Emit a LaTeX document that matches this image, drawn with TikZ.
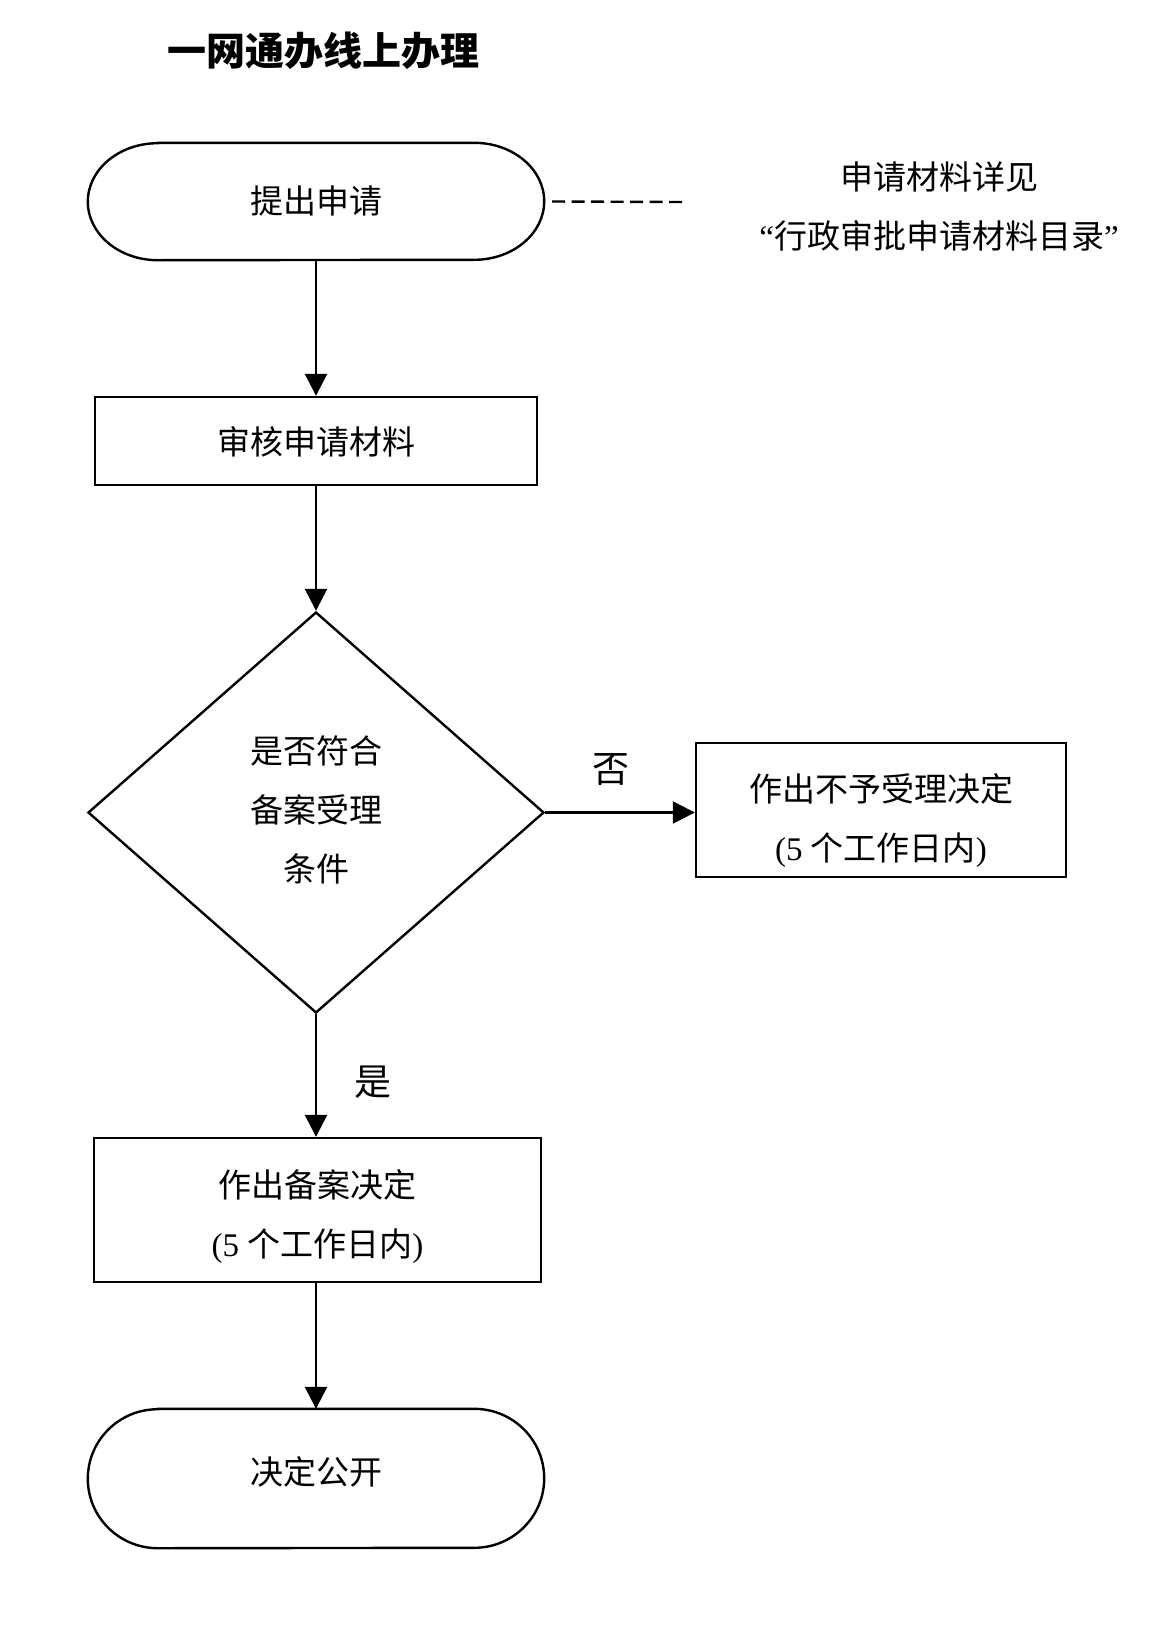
\documentclass[tikz,border=0pt]{standalone}
\usepackage{fontspec}
\setmainfont{Noto Sans CJK SC}
\newfontfamily\serifnum{Liberation Serif}
\usetikzlibrary{arrows.meta,shapes.geometric}
\tikzset{
  lw/.style={line width=2.4pt},
  txt/.style={font=\fontsize{33}{59}\selectfont, align=center, inner sep=0pt},
  procbox/.style={draw, lw, inner sep=0pt},
  termnode/.style={draw=none, inner sep=0pt},
  decis/.style={diamond, draw, lw, inner sep=0pt, minimum width=456pt, minimum height=401pt},
  arr/.style={lw, -{Triangle[length=22pt,width=22pt]}},
  lab/.style={font=\fontsize{37}{40}\selectfont, inner sep=0pt},
}
\newcommand{\termshape}[2]{%
  \draw[lw] ([xshift=70pt]#1.north west) -- ([xshift=-70pt]#1.north east)
    arc[start angle=90,end angle=-90,x radius=70pt,y radius=#2]
    -- ([xshift=70pt]#1.south west)
    arc[start angle=270,end angle=90,x radius=70pt,y radius=#2] -- cycle;}
\begin{document}
\begin{tikzpicture}[x=1pt,y=-1pt]
\useasboundingbox[fill=white] (0,0) rectangle (1170,1652);

\node[font=\fontsize{39}{42}\selectfont\bfseries, inner sep=0pt] (title) at (323.5,51) {一网通办线上办理};

% start terminal
\node[termnode, minimum width=456pt, minimum height=117pt] (start) at (316,201.5) {};
\termshape{start}{58.5pt}
\node[txt] (startT) at (316,200.5) {提出申请};

\coordinate (dashend) at (682,202);
\draw[lw, dash pattern=on 13pt off 6.5pt] ([xshift=8pt]start.east) -- (dashend);

\node[txt] (note) at (939,206.5) {申请材料详见\\{\serifnum“}行政审批申请材料目录{\serifnum”}};

% review
\node[procbox, minimum width=442pt, minimum height=88pt] (review) at (316,441) {};
\node[txt] (reviewT) at (316,442) {审核申请材料};

% decision
\node[decis] (cond) at (316,812.5) {};
\node[txt] (condT) at (316,809.5) {是否符合\\备案受理\\条件};

% reject
\node[procbox, minimum width=370pt, minimum height=134pt] (reject) at (881,810) {};
\node[txt] (rejectT) at (881,821) {作出不予受理决定\\{\serifnum (5 }个工作日内{\serifnum )}};

% accept
\node[procbox, minimum width=447pt, minimum height=144pt] (accept) at (317.5,1210) {};
\node[txt] (acceptT) at (317.5,1217) {作出备案决定\\{\serifnum (5 }个工作日内{\serifnum )}};

% finish terminal
\node[termnode, minimum width=456pt, minimum height=139pt] (finish) at (316,1478.5) {};
\termshape{finish}{69.5pt}
\node[txt] (finishT) at (316,1472) {决定公开};

\draw[arr] (start.south) -- (start.south |- review.north);
\draw[arr] (review.south) -- (review.south |- cond.north);
\draw[arr] (cond.east) -- (cond.east -| reject.west);
\draw[arr] (cond.south) -- (cond.south |- accept.north);
\draw[arr] (accept.south -| finish.north) -- (finish.north);

\node[lab] (no) at (611,769) {否};
\node[lab] (yes) at (373,1082) {是};
\end{tikzpicture}
\end{document}
